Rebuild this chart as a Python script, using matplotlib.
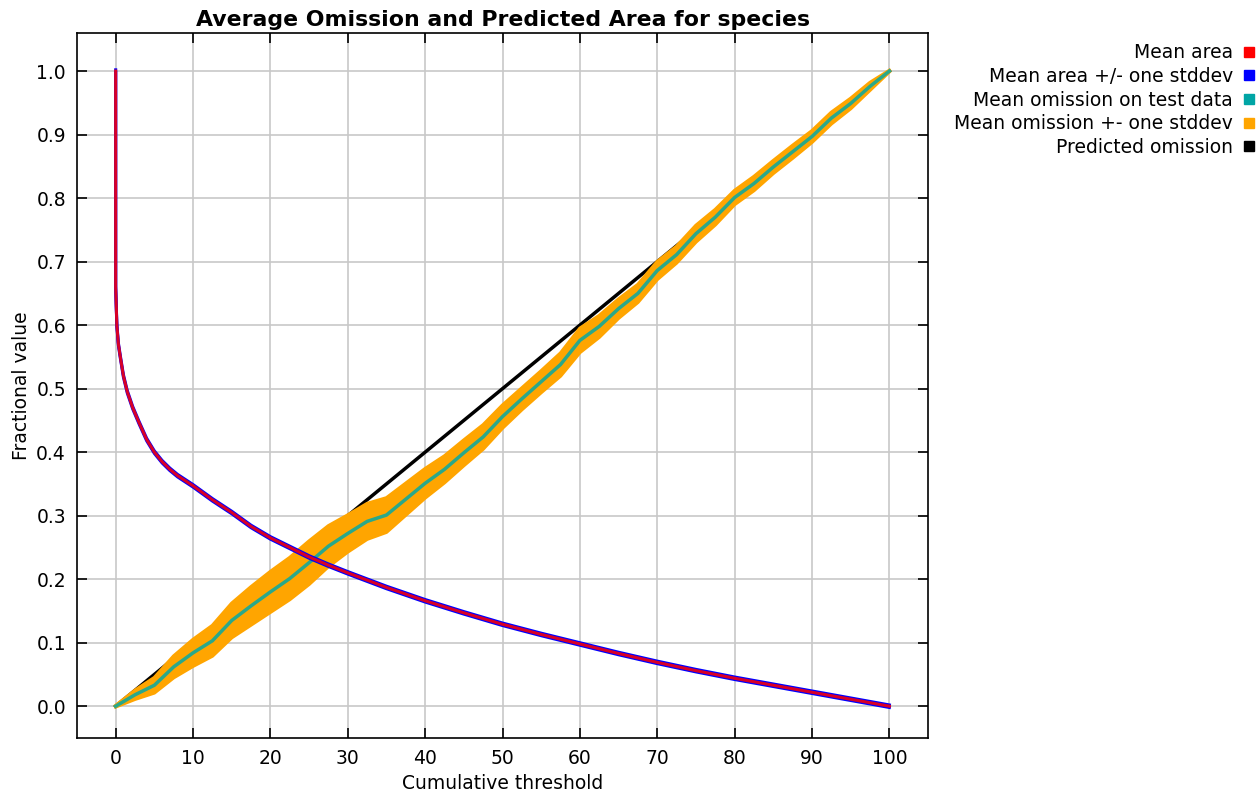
import matplotlib
matplotlib.use("Agg")
import matplotlib.pyplot as plt
from matplotlib.lines import Line2D
import numpy as np

plt.rcParams['font.family'] = ['DejaVu Sans']

# mean predicted area vs cumulative threshold
area_x = [0, 0, 0.05, 0.15, 0.35, 0.6, 1.0, 1.5, 2.2, 3, 4, 5, 6, 7, 8, 9, 10,
          12.5, 15, 17.5, 20, 22.5, 25, 27.5, 30, 35, 40, 45, 50, 55, 60, 65,
          70, 75, 80, 85, 90, 95, 100]
area_y = [1.0, 0.66, 0.64, 0.6, 0.57, 0.55, 0.52, 0.495, 0.47, 0.447, 0.42,
          0.4, 0.385, 0.373, 0.363, 0.355, 0.347, 0.325, 0.305, 0.283, 0.265,
          0.25, 0.235, 0.222, 0.21, 0.187, 0.166, 0.147, 0.129, 0.113, 0.098,
          0.083, 0.069, 0.056, 0.044, 0.033, 0.022, 0.011, 0.0]

# mean omission on test data
om_x = [0, 2.5, 5, 7.5, 10, 12.5, 15, 17.5, 20, 22.5, 25, 27.5, 30, 32.5, 35,
        37.5, 40, 42.5, 45, 47.5, 50, 52.5, 55, 57.5, 60, 62.5, 65, 67.5, 70,
        72.5, 75, 77.5, 80, 82.5, 85, 87.5, 90, 92.5, 95, 97.5, 100]
om_y = [0.0, 0.018, 0.033, 0.062, 0.084, 0.103, 0.135, 0.158, 0.180, 0.201,
        0.226, 0.252, 0.272, 0.291, 0.301, 0.326, 0.351, 0.373, 0.399, 0.424,
        0.456, 0.484, 0.511, 0.538, 0.576, 0.598, 0.626, 0.650, 0.686, 0.711,
        0.744, 0.770, 0.801, 0.823, 0.849, 0.873, 0.897, 0.926, 0.949, 0.976,
        1.0]
om_sd = [0.001, 0.007, 0.012, 0.017, 0.021, 0.024, 0.027, 0.030, 0.032, 0.033,
         0.034, 0.032, 0.029, 0.028, 0.027, 0.025, 0.023, 0.021, 0.020, 0.019,
         0.018, 0.017, 0.017, 0.018, 0.019, 0.017, 0.015, 0.014, 0.014, 0.013,
         0.013, 0.012, 0.011, 0.011, 0.010, 0.010, 0.009, 0.009, 0.008, 0.006,
         0.001]
area_sd = 0.002

labels = ["Mean area", "Mean area +/- one stddev", "Mean omission on test data",
          "Mean omission +- one stddev", "Predicted omission"]
colors = ["#ff0000", "#0000ff", "#00a5a5", "#ffa500", "#000000"]

area_x = np.array(area_x)
area_y = np.array(area_y)
om_x = np.array(om_x)
om_y = np.array(om_y)
om_sd = np.array(om_sd)

fig = plt.figure(figsize=(12.56, 7.93), dpi=100)
ax = fig.add_axes([0.0613, 0.0694, 0.6776, 0.889])

# predicted omission
ax.plot([0, 100], [0, 1], color="#000000", lw=2.5, zorder=2)

# omission band
ax.fill_between(om_x, om_y - om_sd, om_y + om_sd, color="#ffa500", lw=0, zorder=3)
ax.plot(om_x, om_y - om_sd, color="#ffa500", lw=2.5, zorder=3)
ax.plot(om_x, om_y + om_sd, color="#ffa500", lw=2.5, zorder=3)
ax.plot(om_x, om_y, color="#2aa88a", lw=2.5, zorder=4)

# area
ax.plot(area_x, area_y + area_sd, color="#0000ff", lw=2.2, zorder=5)
ax.plot(area_x, area_y - area_sd, color="#0000ff", lw=2.2, zorder=5)
ax.plot(area_x, area_y, color="#ff0000", lw=2.2, zorder=6, alpha=0.85)

ax.set_xlim(-5, 105)
ax.set_ylim(-0.05, 1.06)
ax.set_xticks(np.arange(0, 101, 10))
ax.set_yticks(np.arange(0, 1.01, 0.1))
ax.set_yticklabels([f"{v:.1f}" for v in np.arange(0, 1.01, 0.1)])
ax.tick_params(direction="in", top=True, right=True, length=7, width=1.2,
               labelsize=13.5, pad=8)
ax.grid(True, color="#c8c8c8", lw=1.2, zorder=0)
for s in ax.spines.values():
    s.set_linewidth(1.2)

ax.set_title("Average Omission and Predicted Area for species",
             fontsize=15.8, fontweight="bold", pad=5)
ax.set_xlabel("Cumulative threshold", fontsize=13.5, labelpad=4)
ax.set_ylabel("Fractional value", fontsize=13.5, labelpad=4)

handles = [Line2D([], [], marker="s", color=c, linestyle="", markersize=7)
           for c in colors]
fig.legend(handles, labels, loc="upper right", bbox_to_anchor=(1.004, 0.955),
           bbox_transform=fig.transFigure, frameon=False, markerfirst=False,
           fontsize=13.5, handlelength=0.5, handletextpad=0.6,
           labelspacing=0.25, borderaxespad=0.0)

fig.savefig("out.png", dpi=100)
